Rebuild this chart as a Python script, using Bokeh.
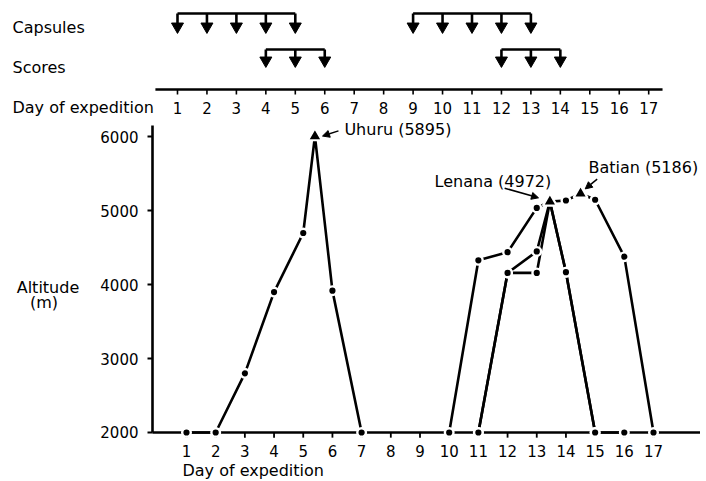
from bokeh.plotting import figure
from bokeh.models import Range1d, FixedTicker, Label, Arrow, NormalHead
from bokeh.core.properties import value
from bokeh.embed import file_html
from bokeh.resources import INLINE

FONT = "DejaVu Sans"

# ---------------- data ----------------
days = list(range(1, 18))
alt_ticks = [2000, 3000, 4000, 5000, 6000]

capsule_groups = [[1, 2, 3, 4, 5], [9, 10, 11, 12, 13]]
score_groups = [[4, 5, 6], [12, 13, 14]]

summit_names = ["Uhuru", "Lenana", "Batian"]
summit_heights = [5895, 4972, 5186]
summit_days = [5.4, 13.45, 14.5]
summit_plot_alt = [6010, 5125, 5234]

trip1_days = [1, 2, 3, 4, 5, 6, 7]
trip1_alt = [2000, 2000, 2800, 3900, 4700, 3920, 2000]
trip1_summits = [0]

route_a_days = [10, 11, 12, 13, 14, 15, 16, 17]
route_a_alt = [2000, 4330, 4440, 5040, 5140, 5150, 4380, 2000]
route_a_summits = [1, 2]

route_b_days = [11, 12, 13, 14, 15, 16]
route_b_alt = [2000, 4160, 4450, 4170, 2000, 2000]
route_b_summits = [1]

route_c_days = [11, 12, 13, 14, 15]
route_c_alt = [2000, 4160, 4160, 4170, 2000]
route_c_summits = [1]

routes = [
    (trip1_days, trip1_alt, trip1_summits),
    (route_a_days, route_a_alt, route_a_summits),
    (route_b_days, route_b_alt, route_b_summits),
    (route_c_days, route_c_alt, route_c_summits),
]

# ---------------- figure ----------------
X0, X1 = -5.372, 18.61
Y0, Y1 = 1350, 7847
SPINE_X = -0.165
BASE, AXIS_TOP = 2000, 6150
p = figure(width=700, height=480, x_range=Range1d(X0, X1), y_range=Range1d(Y0, Y1),
           output_backend="svg", toolbar_location=None,
           min_border_left=0, min_border_right=0, min_border_top=0, min_border_bottom=0)
p.grid.visible = False
p.outline_line_color = None
p.xaxis.visible = False

# the upper panel (capsules / scores / day scale) uses its own scale
p.extra_x_ranges = {"top": Range1d(-5.010, 18.759)}
p.extra_y_ranges = {"top": Range1d(480, 0)}
TOP = dict(x_range_name="top", y_range_name="top")

p.yaxis.fixed_location = SPINE_X
p.yaxis.bounds = (BASE, AXIS_TOP)
p.yaxis.ticker = FixedTicker(ticks=alt_ticks)
p.yaxis.axis_line_width = 2.6
p.yaxis.major_tick_out = 5
p.yaxis.major_tick_in = 0
p.yaxis.major_tick_line_width = 2
p.yaxis.minor_tick_line_color = None
p.yaxis.major_label_standoff = 9
p.yaxis.major_label_text_font = FONT
p.yaxis.major_label_text_font_size = "15px"
p.yaxis.major_label_text_color = "black"

# ---- upper panel ----
CAP_BR, CAP_HEAD = 13, 26
SC_BR, SC_HEAD = 49, 60
for groups, br, hd in [(capsule_groups, CAP_BR, CAP_HEAD), (score_groups, SC_BR, SC_HEAD)]:
    for g in groups:
        p.segment(x0=[g[0]], y0=[br], x1=[g[-1]], y1=[br], line_color="black", line_width=2.6, **TOP)
        p.segment(x0=g, y0=[br] * len(g), x1=g, y1=[hd] * len(g), line_color="black",
                  line_width=2.6, **TOP)
        p.scatter(x=g, y=[hd] * len(g), marker="inverted_triangle", size=12,
                  fill_color="black", line_color="black", **TOP)

AX_Y = 89
p.segment(x0=[0.25], y0=[AX_Y], x1=[17.47], y1=[AX_Y], line_color="black", line_width=2.6, **TOP)
p.segment(x0=days, y0=[AX_Y] * len(days), x1=days, y1=[AX_Y + 5] * len(days),
          line_color="black", line_width=1.6, **TOP)
p.text(x=days, y=[107] * len(days), text=[str(d) for d in days], text_align="center",
       text_baseline="middle", text_font=value(FONT), text_font_size="15px",
       text_color="black", **TOP)

LEFT_X = -4.961
p.text(x=[LEFT_X] * 3, y=[7482, 6940, 6399], text=["Capsules", "Scores", "Day of expedition"],
       text_align="left", text_baseline="middle", text_font=value(FONT),
       text_font_size="16px", text_color="black")

# ---- altitude panel ----
p.line(x=[SPINE_X, X1], y=[BASE, BASE], line_color="black", line_width=2.6)
p.segment(x0=days, y0=[BASE] * len(days), x1=days, y1=[BASE - 70] * len(days),
          line_color="black", line_width=1.8)
p.text(x=days, y=[1743] * len(days), text=[str(d) for d in days], text_align="center",
       text_baseline="middle", text_font=value(FONT), text_font_size="15px", text_color="black")
p.text(x=[0.863], y=[1490], text=["Day of expedition"], text_align="left",
       text_baseline="middle", text_font=value(FONT), text_font_size="16px", text_color="black")
p.text(x=[-3.745, -3.88], y=[3957, 3754], text=["Altitude", "(m)"], text_align="center",
       text_baseline="middle", text_font=value(FONT), text_font_size="16px", text_color="black")

dot_x, dot_y = [], []
for rd, ra, rs in routes:
    pts = list(zip(rd, ra)) + [(summit_days[i], summit_plot_alt[i]) for i in rs]
    pts.sort(key=lambda t: t[0])
    p.line(x=[t[0] for t in pts], y=[t[1] for t in pts], line_color="black", line_width=2.6)
    dot_x += rd
    dot_y += ra

p.scatter(x=dot_x, y=dot_y, marker="circle", size=8.6, fill_color="black",
          line_color="white", line_width=2.4)
p.scatter(x=summit_days, y=summit_plot_alt, marker="triangle", size=14, fill_color="black",
          line_color="white", line_width=2.2)

label_pos = [(6.41, 6096), (9.5, 5392), (14.77, 5582)]
arrow_pos = [((6.207, 6082), (5.66, 6012)), ((11.9, 5307), (13.06, 5176)),
             ((15.07, 5429), (14.66, 5297))]
for name, h, (lx, ly), ((ax0, ay0), (ax1, ay1)) in zip(summit_names, summit_heights, label_pos, arrow_pos):
    p.add_layout(Label(x=lx, y=ly, text=f"{name} ({h})", text_font=FONT, text_font_size="16px",
                       text_baseline="middle", text_align="left", text_color="black"))
    p.add_layout(Arrow(end=NormalHead(size=7, fill_color="black", line_color="black"),
                       x_start=ax0, y_start=ay0, x_end=ax1, y_end=ay1,
                       line_color="black", line_width=1.5))

open("out.html", "w").write(file_html(p, INLINE))
